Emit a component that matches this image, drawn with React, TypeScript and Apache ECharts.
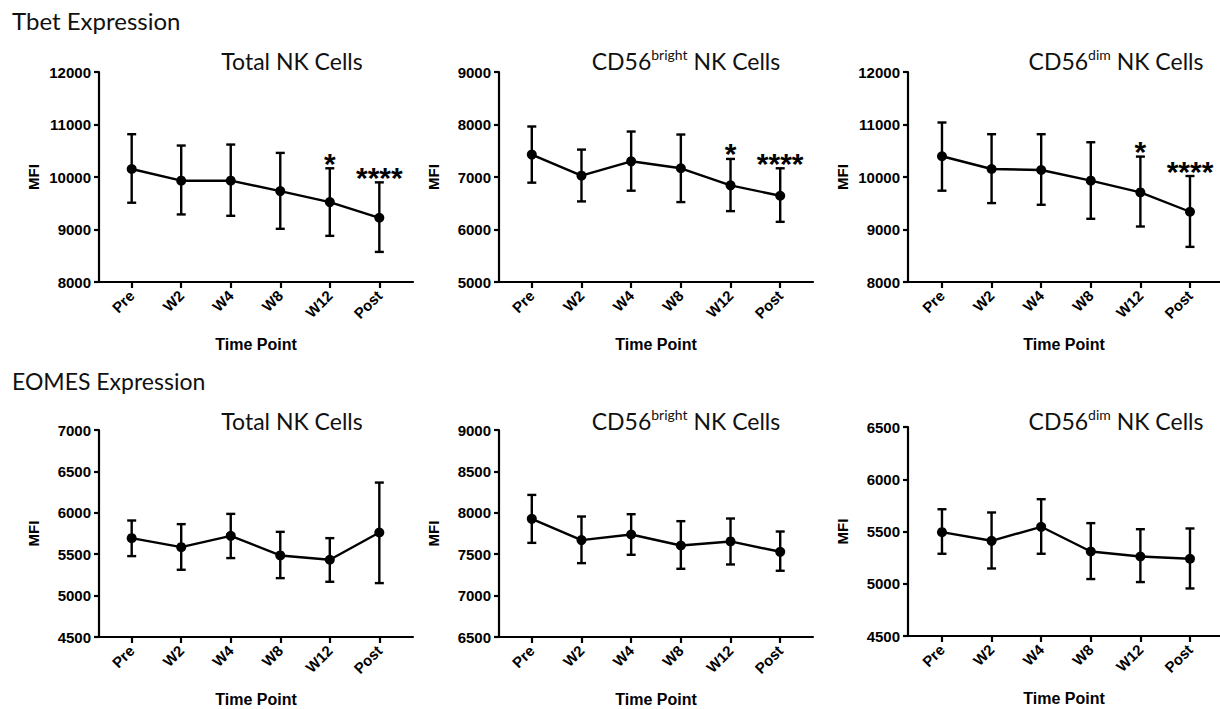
import React, { useEffect, useRef } from "react";
import * as echarts from "echarts";

const categories = ["Pre", "W2", "W4", "W8", "W12", "Post"];

// Tbet – Total NK
const tbetTotalMean = [10153, 9930, 9930, 9732, 9522, 9223];
const tbetTotalHigh = [10815, 10599, 10618, 10459, 10166, 9898];
const tbetTotalLow = [9510, 9287, 9261, 9013, 8879, 8573];
// Tbet – CD56bright
const tbetBrightMean = [7427, 7025, 7299, 7166, 6841, 6643];
const tbetBrightHigh = [7962, 7522, 7866, 7809, 7344, 7166];
const tbetBrightLow = [6892, 6535, 6739, 6522, 6350, 6146];
// Tbet – CD56dim
const tbetDimMean = [10395, 10153, 10134, 9930, 9707, 9338];
const tbetDimHigh = [11038, 10815, 10815, 10662, 10389, 10019];
const tbetDimLow = [9739, 9503, 9471, 9204, 9057, 8669];
// EOMES – Total NK
const eomesTotalMean = [5694, 5585, 5722, 5485, 5433, 5762];
const eomesTotalHigh = [5907, 5863, 5987, 5770, 5694, 6365];
const eomesTotalLow = [5477, 5312, 5453, 5211, 5167, 5151];
// EOMES – CD56bright
const eomesBrightMean = [7927, 7670, 7738, 7605, 7654, 7529];
const eomesBrightHigh = [8216, 7955, 7983, 7899, 7931, 7774];
const eomesBrightLow = [7637, 7392, 7493, 7324, 7376, 7300];
// EOMES – CD56dim
const eomesDimMean = [5494, 5411, 5545, 5309, 5261, 5239];
const eomesDimHigh = [5713, 5682, 5809, 5580, 5522, 5529];
const eomesDimLow = [5287, 5146, 5287, 5045, 5016, 4955];

const tbetSig = ["", "", "", "", "*", "****"];
const noSig = ["", "", "", "", "", ""];

const yRanges = [
  [8000, 12000, 1000],
  [5000, 9000, 1000],
  [8000, 12000, 1000],
  [4500, 7000, 500],
  [6500, 9000, 500],
  [4500, 6500, 500],
];

const panelTitles = [
  "{n|Total NK Cells}",
  "{n|CD56}{s|bright}{n| NK Cells}",
  "{n|CD56}{s|dim}{n| NK Cells}",
  "{n|Total NK Cells}",
  "{n|CD56}{s|bright}{n| NK Cells}",
  "{n|CD56}{s|dim}{n| NK Cells}",
];
const rowTitles = ["Tbet Expression", "EOMES Expression"];

const panels = [
  { mean: tbetTotalMean, hi: tbetTotalHigh, lo: tbetTotalLow, sig: tbetSig },
  { mean: tbetBrightMean, hi: tbetBrightHigh, lo: tbetBrightLow, sig: tbetSig },
  { mean: tbetDimMean, hi: tbetDimHigh, lo: tbetDimLow, sig: tbetSig },
  { mean: eomesTotalMean, hi: eomesTotalHigh, lo: eomesTotalLow, sig: noSig },
  { mean: eomesBrightMean, hi: eomesBrightHigh, lo: eomesBrightLow, sig: noSig },
  { mean: eomesDimMean, hi: eomesDimHigh, lo: eomesDimLow, sig: noSig },
];

const gridPos = [
  { left: 99, top: 72, width: 314, height: 210, xmin: -0.66, xmax: 5.68 },
  { left: 499, top: 72, width: 314, height: 210, xmin: -0.66, xmax: 5.66 },
  { left: 908, top: 72, width: 312, height: 210, xmin: -0.685, xmax: 5.605 },
  { left: 99, top: 430, width: 314, height: 207, xmin: -0.66, xmax: 5.68 },
  { left: 499, top: 430, width: 314, height: 207, xmin: -0.66, xmax: 5.66 },
  { left: 908, top: 427, width: 312, height: 209, xmin: -0.685, xmax: 5.605 },
];
const titlePos = [
  [292, 61], [686, 61], [1116, 61],
  [292, 421], [686, 421], [1116, 421],
];

const INK = "#000";
const tickFont = "'Liberation Sans', Arial, sans-serif";
const titleFont = "Lato, 'Open Sans', sans-serif";

export default function App() {
  const ref = useRef<HTMLDivElement>(null);
  useEffect(() => {
    if (!ref.current) return;
    const chart = echarts.init(ref.current, undefined, { renderer: "svg" });
    const idx = [0, 1, 2, 3, 4, 5];
    const grid = gridPos.map((g) => ({
      left: g.left, top: g.top, width: g.width, height: g.height, containLabel: false,
    }));
    const xAxis = gridPos.map((g, i) => ({
      type: "value",
      gridIndex: i,
      min: g.xmin,
      max: g.xmax,
      splitLine: { show: false },
      axisLine: { show: true, onZero: false, lineStyle: { color: INK, width: 2.2 } },
      axisTick: { show: true, customValues: idx, length: 6, lineStyle: { color: INK, width: 2.2 } },
      axisLabel: {
        show: true,
        customValues: idx,
        rotate: 45,
        margin: 11,
        color: INK,
        fontFamily: tickFont,
        fontWeight: "bold",
        fontSize: 15,
        formatter: (v: number) => categories[Math.round(v)] ?? "",
      },
      name: "Time Point",
      nameLocation: "middle",
      nameGap: 54,
      nameTextStyle: { color: INK, fontFamily: tickFont, fontWeight: "bold", fontSize: 16 },
    }));
    const yAxis = yRanges.map((r, i) => ({
      type: "value",
      gridIndex: i,
      min: r[0],
      max: r[1],
      interval: r[2],
      splitLine: { show: false },
      axisLine: { show: true, onZero: false, lineStyle: { color: INK, width: 2.2 } },
      axisTick: { show: true, length: 5, lineStyle: { color: INK, width: 2.2 } },
      axisLabel: {
        color: INK, fontFamily: tickFont, fontWeight: "bold", fontSize: 15, margin: 8,
        formatter: (v: number) => String(v),
      },
      name: "MFI",
      nameLocation: "middle",
      nameGap: 58,
      nameTextStyle: { color: INK, fontFamily: tickFont, fontWeight: "bold", fontSize: 15 },
    }));
    const series: any[] = [];
    panels.forEach((p, i) => {
      series.push({
        type: "custom",
        xAxisIndex: i,
        yAxisIndex: i,
        z: 2,
        encode: { x: 0, y: [1, 2] },
        data: p.mean.map((_, k) => [k, p.lo[k], p.hi[k]]),
        renderItem: (params: any, api: any) => {
          const x = api.value(0);
          const pl = api.coord([x, api.value(1)]);
          const ph = api.coord([x, api.value(2)]);
          const c = 4.5;
          const ls = { stroke: INK, lineWidth: 2.4 };
          const children: any[] = [
            { type: "line", shape: { x1: pl[0], y1: pl[1], x2: ph[0], y2: ph[1] }, style: ls },
            { type: "line", shape: { x1: ph[0] - c, y1: ph[1], x2: ph[0] + c, y2: ph[1] }, style: ls },
            { type: "line", shape: { x1: pl[0] - c, y1: pl[1], x2: pl[0] + c, y2: pl[1] }, style: ls },
          ];
          const s = p.sig[params.dataIndex];
          if (s) {
            children.push({
              type: "text",
              style: {
                text: s, x: ph[0], y: ph[1] - 5, align: "center", verticalAlign: "middle",
                fill: INK, fontSize: 30, fontWeight: "bold", fontFamily: tickFont,
              },
            });
          }
          return { type: "group", children };
        },
      });
      series.push({
        type: "line",
        xAxisIndex: i,
        yAxisIndex: i,
        z: 3,
        data: p.mean.map((m, k) => [k, m]),
        symbol: "circle",
        symbolSize: 10,
        itemStyle: { color: INK },
        lineStyle: { color: INK, width: 2.4 },
      });
    });
    const graphic: any[] = [];
    rowTitles.forEach((t, r) => {
      graphic.push({
        type: "text",
        x: 12,
        y: r === 0 ? 20 : 381,
        style: {
          text: t, fill: "#111", fontFamily: titleFont, fontSize: r === 0 ? 24 : 23,
          align: "left", verticalAlign: "middle",
        },
      });
    });
    panelTitles.forEach((t, i) => {
      graphic.push({
        type: "text",
        x: titlePos[i][0],
        y: titlePos[i][1],
        style: {
          text: t, align: "center", verticalAlign: "middle",
          rich: {
            n: { fontFamily: titleFont, fontSize: 23, fill: "#111", color: "#111", lineHeight: 28 },
            s: { fontFamily: titleFont, fontSize: 14, fill: "#111", color: "#111", verticalAlign: "top", lineHeight: 13 },
          },
        },
      });
    });
    chart.setOption({
      animation: false,
      backgroundColor: "#fff",
      grid,
      xAxis,
      yAxis,
      series,
      graphic,
    });
    return () => chart.dispose();
  }, []);
  return (
    <div
      ref={ref}
      style={{ position: "absolute", left: 0, top: 0, width: 1220, height: 709 }}
    />
  );
}
